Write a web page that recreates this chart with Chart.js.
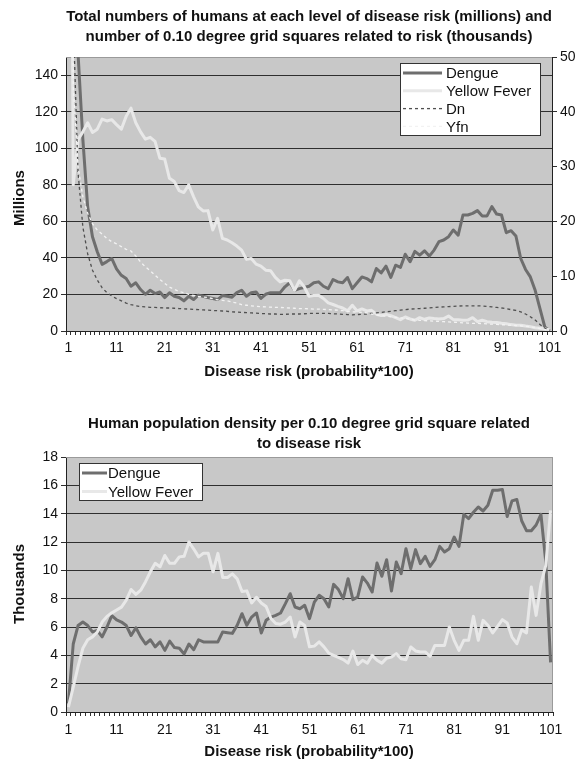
<!DOCTYPE html>
<html><head><meta charset="utf-8">
<script src="https://cdn.jsdelivr.net/npm/chart.js@4.4.1/dist/chart.umd.min.js"></script>
<style>
html,body{margin:0;padding:0;background:#fff;}
#wrap{position:relative;width:582px;height:764px;overflow:hidden;}
.box{position:absolute;left:0;width:582px;height:382px;}
canvas{display:block;}
</style></head><body>
<div id="wrap">
<div class="box" style="top:0"><canvas id="c1" width="582" height="382"></canvas></div>
<div class="box" style="top:382px"><canvas id="c2" width="582" height="382"></canvas></div>
</div>
<script>
const categories = [1,2,3,4,5,6,7,8,9,10,11,12,13,14,15,16,17,18,19,20,21,22,23,24,25,26,27,28,29,30,31,32,33,34,35,36,37,38,39,40,41,42,43,44,45,46,47,48,49,50,51,52,53,54,55,56,57,58,59,60,61,62,63,64,65,66,67,68,69,70,71,72,73,74,75,76,77,78,79,80,81,82,83,84,85,86,87,88,89,90,91,92,93,94,95,96,97,98,99,100,101];
const xTickLabels = ['1','11','21','31','41','51','61','71','81','91','101'];
const topLeftTicks = [0,20,40,60,80,100,120,140];
const topRightTicks = [0,10,20,30,40,50];
const bottomTicks = [0,2,4,6,8,10,12,14,16,18];

// Top chart: millions of humans (left axis)
const topDengue = [500,230,152,105,68,51.6,43.4,36.5,38,39.7,
 34,30.5,28.7,24.5,26.4,22.7,20.1,22.3,20.5,21.4,
 18.3,20.9,19,18.3,16.5,19,17.2,19.6,19,18.3,
 17.8,17.2,19.4,19,18.5,21,22.3,19,20.9,21.4,
 17.8,20.1,21,21,21,24.2,26.4,22.3,23.2,23.8,
 24.5,26.4,26.9,24.5,23.2,28.2,26.9,26.4,29.3,23.2,
 26.4,29.6,28.7,26.9,34.2,31.8,35.5,29.3,36,34.8,
 42,37.9,43.6,41.5,43.9,41,44.3,48.9,49.8,51.6,
 55.3,52.5,63.5,63.5,64.4,65.9,63,63,68.1,64,
 63.5,53.8,54.9,52,39.7,33.7,29.6,22.3,12.3,2.2,0];
const topYellowFever = [600,80,104.7,109,114,108.7,110.5,116,115,115.7,
 113,110.5,117.5,122,114,109,105,106,103.8,94.6,
 94.2,83.6,81.8,76.9,75.8,80,73.6,68,65.7,65.9,
 55.3,61.7,50.7,49.8,48.3,46.5,44.3,39.2,39.7,36.6,
 35.5,33.3,33,29.3,26.9,27.8,27.5,22.3,27.5,24.2,
 19,19.4,19.6,17.8,15.4,14.5,13.5,12.6,11,14.1,
 11,12.1,11,11.3,9.2,8.5,9,8.4,7.3,6.2,
 7.7,6.6,5.9,7.3,6.4,7.1,6.8,6.6,6.8,8.2,
 6.2,6.2,5.9,6,7.3,5.1,5.9,5.1,4.8,4.6,
 4.2,4,3.5,3.1,3.1,2.7,2.4,1.8,1.5,1.1,0.7];
// Top chart: thousands of grid squares (right axis)
const topDn = [150,57,29,19,14.1,11.1,9.3,7.9,7,6.4,
 5.9,5.5,5.1,4.8,4.6,4.45,4.4,4.3,4.3,4.25,
 4.2,4.2,4.15,4.1,4.05,4,3.95,3.9,3.85,3.8,
 3.75,3.7,3.65,3.6,3.5,3.45,3.4,3.35,3.3,3.25,
 3.2,3.15,3.1,3.1,3.05,3.05,3.1,3.1,3.1,3.15,
 3.2,3.2,3.2,3.2,3.2,3.15,3.1,3.05,3,2.95,
 3,3.05,3.1,3.2,3.3,3.4,3.5,3.6,3.7,3.8,
 3.9,4,4.05,4.1,4.15,4.2,4.3,4.35,4.4,4.45,
 4.5,4.55,4.6,4.6,4.6,4.6,4.55,4.5,4.4,4.3,
 4.2,4.05,3.9,3.75,3.5,3.1,2.6,2,1.2,0.5,0.1];
const topYfn = [200,45,30,24.5,21.5,19.6,18.4,17.7,16.9,16.3,
 15.9,15.4,14.9,14.6,13.7,12.6,11.7,11,10.2,9.4,
 8.7,8,7.6,7.2,7,6.7,6.5,6.3,6.2,6.1,
 5.9,5.7,5.6,5.5,5.3,5.1,4.8,4.7,4.6,4.5,
 4.45,4.4,4.35,4.3,4.3,4.25,4.2,4.15,4.1,4.1,
 4.05,4,4,3.95,3.9,3.85,3.8,3.7,3.6,3.5,
 3.45,3.4,3.3,3.1,2.95,2.8,2.7,2.6,2.5,2.4,
 2.3,2.15,2,1.95,1.9,1.85,1.8,1.75,1.7,1.65,
 1.6,1.55,1.5,1.45,1.4,1.4,1.35,1.3,1.25,1.2,
 1.15,1.1,1.05,1,0.95,0.85,0.75,0.6,0.45,0.3,0.1];
// Bottom chart: population density (thousands)
const bottomDengue = [0.6,4.8,6.1,6.35,6.1,5.65,5.75,5.3,6,6.8,
 6.5,6.35,6.1,5.4,5.95,5.3,4.8,5.1,4.6,4.95,
 4.35,5,4.55,4.5,4.1,4.8,4.4,5.1,4.95,4.95,
 4.95,4.95,5.65,5.6,5.55,6.12,6.94,6.12,6.7,6.99,
 5.58,6.47,6.7,6.82,6.99,7.65,8.35,7.41,7.29,7.53,
 6.59,7.76,8.24,8,7.41,9.01,8.64,8,9.41,7.93,
 8.12,9.53,9.1,8.47,10.52,9.58,10.75,8.54,10.59,9.76,
 11.53,10.12,11.46,10.47,10.99,10.28,10.75,11.69,11.29,11.53,
 12.35,11.69,13.95,13.65,14.1,14.47,14.19,14.59,15.65,15.65,
 15.7,13.8,14.9,15,13.5,12.8,12.8,13.2,13.95,10.6,3.5];
const bottomYellowFever = [0.35,1.75,3.2,4.5,5.1,5.3,5.65,6.35,6.75,7,
 7.2,7.4,7.9,8.65,8.3,8.6,9.2,9.9,10.5,10.25,
 11.05,10.5,10.5,10.95,11,12,11.5,10.95,11.2,11.2,
 9.9,11.2,9.5,9.5,9.75,9.4,8.5,8.55,7.7,8.1,
 7.7,7.45,6.6,6.25,6.2,6.35,6.7,5.3,6.35,6.1,
 4.6,4.65,4.95,4.6,4.15,4,3.85,3.7,3.45,4.3,
 3.35,3.65,3.45,4,3.65,3.45,3.8,3.88,4.12,3.76,
 3.69,4.59,4.31,4.24,4.24,3.93,4.7,4.7,4.7,6,
 5.06,4.35,5.06,5.06,6.75,5.06,6.47,6.12,5.58,6.05,
 6.52,6.28,5.29,4.82,5.81,5.58,8.82,6.82,9.06,10.35,14.24];

const FONT = '"Liberation Sans", Arial, Helvetica, sans-serif';
const DENGUE_COLOR = '#6e6e6e';
const YF_COLOR = '#e8e8e8';
const DN_COLOR = '#505050';
const YFN_COLOR = '#f2f2f2';
const GRID = '#2f2f2f';
const PLOT_BG = '#c8c8c8';

const decor = {
  id: 'decor',
  beforeDraw(chart, args, o) {
    const {ctx, chartArea: a} = chart;
    ctx.save();
    ctx.fillStyle = o.plotBg;
    ctx.fillRect(a.left, a.top, a.right - a.left, a.bottom - a.top);
    ctx.restore();
  },
  beforeDatasetsDraw(chart, args, o) {
    const {ctx, chartArea: a} = chart;
    ctx.save();
    ctx.strokeStyle = o.frameColor;
    ctx.lineWidth = 1;
    ctx.beginPath();
    ctx.moveTo(a.left, a.top + 0.5); ctx.lineTo(a.right, a.top + 0.5);
    if (o.rightFrame) { ctx.moveTo(a.right - 0.5, a.top); ctx.lineTo(a.right - 0.5, a.bottom); }
    ctx.stroke();
    ctx.restore();
  },
  afterDatasetsDraw(chart, args, o) {
    const L = o.legend; if (!L) return;
    const ctx = chart.ctx;
    ctx.save();
    ctx.fillStyle = '#ffffff';
    ctx.fillRect(L.x, L.y, L.w, L.h);
    ctx.strokeStyle = '#333';
    ctx.lineWidth = 1;
    ctx.strokeRect(L.x + 0.5, L.y + 0.5, L.w - 1, L.h - 1);
    ctx.font = L.font;
    ctx.textBaseline = 'middle';
    ctx.textAlign = 'left';
    chart.data.datasets.forEach((ds, i) => {
      const yy = L.y + L.first + i * L.row;
      ctx.save();
      ctx.strokeStyle = ds.borderColor;
      ctx.lineWidth = ds.borderWidth;
      ctx.setLineDash(ds.borderDash || []);
      ctx.beginPath();
      ctx.moveTo(L.x + L.s1, yy); ctx.lineTo(L.x + L.s2, yy);
      ctx.stroke();
      ctx.restore();
      ctx.fillStyle = '#111';
      ctx.fillText(ds.label, L.x + L.tx, yy + 1);
    });
    ctx.restore();
  },
  afterDraw(chart, args, o) {
    const ctx = chart.ctx;
    ctx.save();
    ctx.fillStyle = '#111';
    ctx.textAlign = 'center';
    ctx.textBaseline = 'middle';
    (o.texts || []).forEach(t => {
      ctx.save();
      ctx.font = t.font;
      ctx.translate(t.x, t.y);
      if (t.rot) ctx.rotate(t.rot);
      ctx.fillText(t.text, 0, 0);
      ctx.restore();
    });
    ctx.restore();
  }
};

const tickFont = {family: FONT, size: 14};
const boldFont = 'bold 15px ' + FONT;

function xScale(h, pad) {
  return {
    type: 'category',
    offset: true,
    grid: {display: true, drawOnChartArea: false, drawTicks: true, tickLength: 4, offset: true, color: GRID, tickColor: GRID},
    border: {display: true, color: '#222', width: 1},
    ticks: {
      autoSkip: false, maxRotation: 0, minRotation: 0, padding: pad, color: '#111', font: tickFont,
      callback: function(v, i) { const s = String(categories[i]); return xTickLabels.includes(s) ? s : ''; }
    },
    afterFit: s => { s.height = h; }
  };
}
function yScale(pos, min, max, ticksArr, width, onArea) {
  return {
    type: 'linear', position: pos, min: min, max: max,
    afterBuildTicks: s => { s.ticks = ticksArr.map(v => ({value: v})); },
    grid: {display: true, drawOnChartArea: onArea, drawTicks: true, tickLength: 5, color: GRID, tickColor: GRID, lineWidth: 1},
    border: {display: true, color: '#222', width: 1},
    ticks: {padding: 3, color: '#111', font: tickFont},
    afterFit: s => { s.width = width; }
  };
}
const lineDefaults = {pointRadius: 0, pointHoverRadius: 0, tension: 0, borderJoinStyle: 'round', borderCapStyle: 'butt', fill: false, clip: 0, spanGaps: true};

new Chart(document.getElementById('c1'), {
  type: 'line',
  data: {
    labels: categories,
    datasets: [
      Object.assign({label: 'Dengue', data: topDengue, yAxisID: 'y', borderColor: DENGUE_COLOR, borderWidth: 3, order: 4}, lineDefaults),
      Object.assign({label: 'Yellow Fever', data: topYellowFever, yAxisID: 'y', borderColor: YF_COLOR, borderWidth: 3, order: 3}, lineDefaults),
      Object.assign({label: 'Dn', data: topDn, yAxisID: 'y2', borderColor: DN_COLOR, borderWidth: 1.3, borderDash: [3, 3], order: 2}, lineDefaults),
      Object.assign({label: 'Yfn', data: topYfn, yAxisID: 'y2', borderColor: YFN_COLOR, borderWidth: 1.3, borderDash: [3, 3], order: 1}, lineDefaults)
    ]
  },
  options: {
    responsive: false, animation: false, events: [],
    layout: {padding: {top: 57, left: 0, right: 0, bottom: 0}},
    scales: {
      x: xScale(51, 5),
      y: yScale('left', 0, 150, topLeftTicks, 66, true),
      y2: yScale('right', 0, 50, topRightTicks, 30, false)
    },
    plugins: {
      legend: {display: false}, tooltip: {enabled: false}, title: {display: false},
      decor: {
        plotBg: PLOT_BG, frameColor: '#9a9a9a', rightFrame: false,
        legend: {x: 400, y: 63, w: 141, h: 73, first: 10, row: 17.8, s1: 3, s2: 42, tx: 46, font: '15px ' + FONT},
        texts: [
          {text: 'Total numbers of humans at each level of disease risk (millions) and', x: 309, y: 17, font: boldFont},
          {text: 'number of 0.10 degree grid squares related to risk (thousands)', x: 309, y: 37, font: boldFont},
          {text: 'Disease risk (probability*100)', x: 309, y: 372, font: boldFont},
          {text: 'Millions', x: 20, y: 198, font: boldFont, rot: -Math.PI / 2}
        ]
      }
    }
  },
  plugins: [decor]
});

new Chart(document.getElementById('c2'), {
  type: 'line',
  data: {
    labels: categories,
    datasets: [
      Object.assign({label: 'Dengue', data: bottomDengue, yAxisID: 'y', borderColor: DENGUE_COLOR, borderWidth: 3, order: 2}, lineDefaults),
      Object.assign({label: 'Yellow Fever', data: bottomYellowFever, yAxisID: 'y', borderColor: YF_COLOR, borderWidth: 3, order: 1}, lineDefaults)
    ]
  },
  options: {
    responsive: false, animation: false, events: [],
    layout: {padding: {top: 75, left: 0, right: 29, bottom: 0}},
    scales: {
      x: xScale(52, 6),
      y: yScale('left', 0, 18, bottomTicks, 66, true)
    },
    plugins: {
      legend: {display: false}, tooltip: {enabled: false}, title: {display: false},
      decor: {
        plotBg: PLOT_BG, frameColor: '#9a9a9a', rightFrame: true,
        legend: {x: 79, y: 81, w: 124, h: 38, first: 10, row: 18.5, s1: 3, s2: 28, tx: 29, font: '15px ' + FONT},
        texts: [
          {text: 'Human population density per 0.10 degree grid square related', x: 309, y: 42, font: boldFont},
          {text: 'to disease risk', x: 309, y: 61.5, font: boldFont},
          {text: 'Disease risk (probability*100)', x: 309, y: 370, font: boldFont},
          {text: 'Thousands', x: 20, y: 202, font: boldFont, rot: -Math.PI / 2}
        ]
      }
    }
  },
  plugins: [decor]
});
</script>
</body></html>
